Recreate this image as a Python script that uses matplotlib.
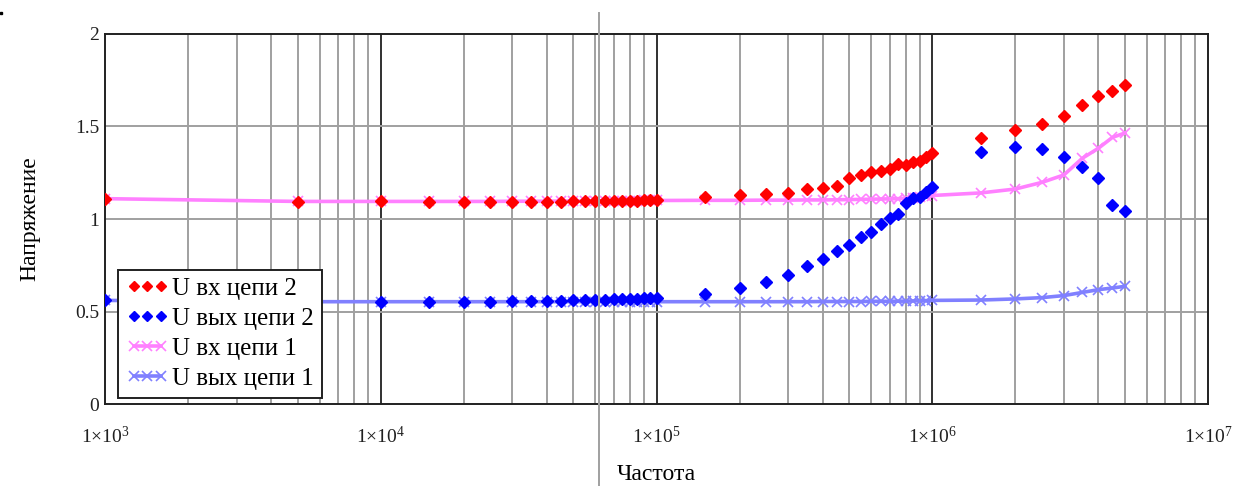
import math
import matplotlib
matplotlib.use("Agg")
import matplotlib.pyplot as plt
from matplotlib.ticker import FixedLocator, FuncFormatter
from matplotlib.lines import Line2D

plt.rcParams['font.family'] = ['Liberation Serif', 'DejaVu Serif']
plt.rcParams['mathtext.fontset'] = 'custom'
plt.rcParams['mathtext.rm'] = 'Liberation Serif'
plt.rcParams['mathtext.it'] = 'Liberation Serif'

# Частоты измерений, Гц
freq = [1e3, 5e3,
        1e4, 1.5e4, 2e4, 2.5e4, 3e4, 3.5e4, 4e4, 4.5e4, 5e4, 5.5e4, 6e4, 6.5e4,
        7e4, 7.5e4, 8e4, 8.5e4, 9e4, 9.5e4, 1e5,
        1.5e5, 2e5, 2.5e5, 3e5, 3.5e5, 4e5, 4.5e5, 5e5, 5.5e5, 6e5, 6.5e5,
        7e5, 7.5e5, 8e5, 8.5e5, 9e5, 9.5e5, 1e6,
        1.5e6, 2e6, 2.5e6, 3e6, 3.5e6, 4e6, 4.5e6, 5e6]

# Цепь 2
u_in_2 = [1.11, 1.09,
          1.095, 1.09, 1.09, 1.09, 1.09, 1.092, 1.092, 1.093, 1.095, 1.097, 1.097, 1.098,
          1.098, 1.098, 1.099, 1.099, 1.10, 1.10, 1.10,
          1.12, 1.13, 1.133, 1.14, 1.162, 1.168, 1.18, 1.222, 1.238, 1.256, 1.258,
          1.27, 1.297, 1.294, 1.306, 1.315, 1.333, 1.355,
          1.438, 1.481, 1.514, 1.559, 1.618, 1.667, 1.69, 1.724]
u_out_2 = [0.56, 0.552,
           0.552, 0.553, 0.553, 0.554, 0.555, 0.556, 0.557, 0.558, 0.56, 0.562, 0.563, 0.564,
           0.566, 0.567, 0.568, 0.57, 0.571, 0.572, 0.573,
           0.595, 0.625, 0.659, 0.699, 0.748, 0.784, 0.825, 0.861, 0.903, 0.932, 0.971,
           1.004, 1.027, 1.085, 1.112, 1.117, 1.148, 1.171,
           1.36, 1.391, 1.377, 1.335, 1.279, 1.223, 1.077, 1.045]

# Цепь 1
u_in_1 = [1.11, 1.095,
          1.095, 1.095, 1.095, 1.095, 1.096, 1.096, 1.096, 1.097, 1.097, 1.097, 1.098, 1.098,
          1.098, 1.099, 1.099, 1.099, 1.10, 1.10, 1.10,
          1.101, 1.101, 1.102, 1.102, 1.103, 1.103, 1.104, 1.105, 1.106, 1.107, 1.108,
          1.109, 1.11, 1.112, 1.115, 1.118, 1.122, 1.127,
          1.141, 1.162, 1.198, 1.238, 1.328, 1.382, 1.441, 1.465]
u_out_1 = [0.56, 0.553,
           0.553, 0.553, 0.553, 0.553, 0.553, 0.553, 0.553, 0.553, 0.553, 0.553, 0.553, 0.553,
           0.553, 0.553, 0.553, 0.553, 0.553, 0.553, 0.553,
           0.553, 0.553, 0.553, 0.553, 0.553, 0.554, 0.554, 0.554, 0.554, 0.555, 0.555,
           0.555, 0.556, 0.556, 0.557, 0.558, 0.559, 0.56,
           0.562, 0.568, 0.575, 0.586, 0.603, 0.618, 0.627, 0.636]

labels = ['U вх цепи 2', 'U вых цепи 2', 'U вх цепи 1', 'U вых цепи 1']
decades = [1e3, 1e4, 1e5, 1e6, 1e7]
y_ticks = [0, 0.5, 1, 1.5, 2]

fig = plt.figure(figsize=(12.37, 4.86), dpi=100)
ax = fig.add_axes([105 / 1237, 1 - 404 / 486, 1103 / 1237, 370 / 486])
ax.set_xscale('log')
ax.set_xlim(1e3, 1e7)
ax.set_ylim(0, 2)

# сетка: декады тёмные, промежуточные серые
for d in decades[:-1]:
    for k in range(2, 10):
        ax.axvline(d * k, color='#a0a0a0', lw=1.4, zorder=0)
    if d > 1e3:
        ax.axvline(d, color='#303030', lw=1.4, zorder=0)
for yv in y_ticks[1:-1]:
    ax.axhline(yv, color='#a0a0a0', lw=1.4, zorder=0)

ax.plot(freq, u_in_1, color='#ff80ff', lw=2.6, marker='x', ms=7, mew=1.2, zorder=2)
ax.plot(freq, u_out_1, color='#8080ff', lw=2.6, marker='x', ms=7, mew=1.2, zorder=2)
ax.plot(freq, u_in_2, ls='none', marker='D', ms=6, color='#ff0000', zorder=3)
ax.plot(freq, u_out_2, ls='none', marker='D', ms=6, color='#0000ff', zorder=3)

ax.xaxis.set_major_locator(FixedLocator(decades))
ax.xaxis.set_minor_locator(FixedLocator([]))
ax.xaxis.set_major_formatter(FuncFormatter(
    lambda v, p: r'$1{\times}10^{%d}$' % round(math.log10(v))))
ax.yaxis.set_major_locator(FixedLocator(y_ticks))
ax.yaxis.set_major_formatter(FuncFormatter(lambda v, p: '%g' % v))
ax.tick_params(axis='both', length=0, labelsize=14, colors='#202020')
ax.tick_params(axis='x', pad=16)
ax.tick_params(axis='y', pad=4)
for s in ax.spines.values():
    s.set_color('#202020')
    s.set_linewidth(1.4)

ax.set_xlabel('Частота', fontsize=17)
ax.set_ylabel('Напряжение', fontsize=17)
ax.xaxis.set_label_coords(0.5, -0.163)
ax.yaxis.set_label_coords(-0.059, 0.5)

handles = [
    Line2D([], [], ls='none', marker='D', ms=5.5, color='#ff0000'),
    Line2D([], [], ls='none', marker='D', ms=5.5, color='#0000ff'),
    Line2D([], [], color='#ff80ff', lw=2.6, marker='x', ms=7, mew=1.2),
    Line2D([], [], color='#8080ff', lw=2.6, marker='x', ms=7, mew=1.2),
]
leg = ax.legend(handles, labels, loc='lower left', bbox_to_anchor=(0.012, 0.016),
                borderaxespad=0, numpoints=3, fontsize=18, handlelength=1.7,
                handletextpad=0.15, labelspacing=0.3, borderpad=0.32,
                fancybox=False, framealpha=1, edgecolor='#202020')
leg.get_frame().set_linewidth(1.4)

# вертикальный маркер поверх всего рисунка
fig.add_artist(Line2D([599 / 1237, 599 / 1237], [0, 1 - 13 / 486],
                      color='#a0a0a0', lw=1.4, transform=fig.transFigure))
fig.add_artist(Line2D([1 / 1237], [1 - 13 / 486], marker='s', ms=1.5,
                      color='black', transform=fig.transFigure))

fig.savefig('out.png', dpi=100)
